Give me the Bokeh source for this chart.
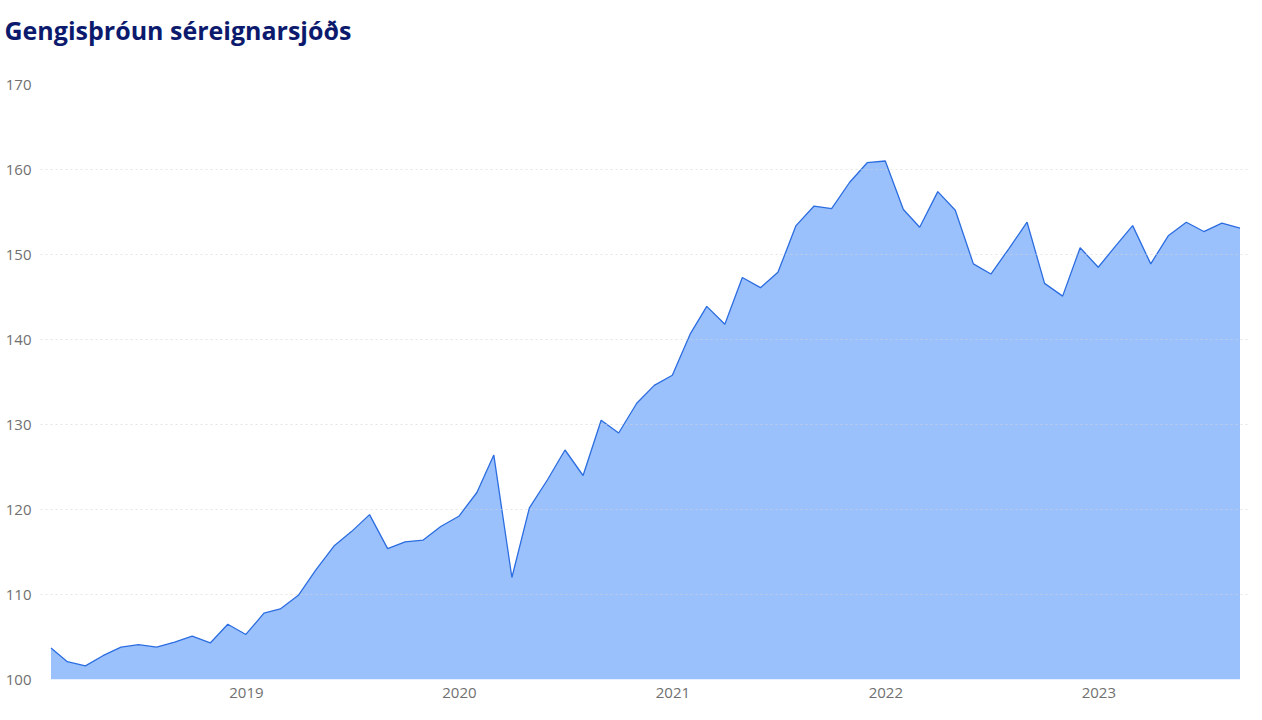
import pandas as pd
from bokeh.plotting import figure
from bokeh.models import FixedTicker, Range1d, ColumnDataSource, CustomJSTickFormatter, Title
from bokeh.embed import file_html
from bokeh.resources import INLINE

title_text = "Gengisþróun séreignarsjóðs"
start_month = "2018-01-31"
n_months = 68
values = [
    103.7, 102.1, 101.6, 102.8, 103.8, 104.1, 103.8, 104.4, 105.1, 104.3, 106.5, 105.3,
    107.8, 108.3, 109.9, 112.9, 115.7, 117.4, 119.4, 115.4, 116.2, 116.4, 118.0, 119.2,
    122.0, 126.4, 112.0, 120.2, 123.5, 127.0, 124.0, 130.5, 129.0, 132.5, 134.6, 135.8,
    140.7, 143.9, 141.8, 147.3, 146.1, 147.9, 153.4, 155.7, 155.4, 158.5, 160.8, 161.0,
    155.3, 153.2, 157.4, 155.2, 148.9, 147.7, 150.7, 153.8, 146.6, 145.1, 150.8, 148.5,
    151.1, 153.4, 148.9, 152.2, 153.8, 152.7, 153.7, 153.1,
]
y_ticks = [100, 110, 120, 130, 140, 150, 160, 170]
x_tick_years = [2019, 2020, 2021, 2022, 2023]

dates = pd.date_range(start_month, periods=n_months, freq="ME")
src = ColumnDataSource(dict(x=dates, y=values, base=[y_ticks[0]] * len(values)))

pad = pd.Timedelta(days=18)
p = figure(
    width=1250, height=704, x_axis_type="datetime",
    x_range=Range1d(dates[0] - pad, dates[-1] + pad),
    y_range=Range1d(y_ticks[0], y_ticks[-1]),
    output_backend="svg", toolbar_location=None,
    min_border_left=40, min_border_right=0, min_border_top=0, min_border_bottom=25,
)
p.title.text = title_text
p.title.text_font = "Open Sans"
p.title.text_font_style = "bold"
p.title.text_font_size = "25px"
p.title.text_color = "#0c1a6e"
p.title.offset = -36
p.title.standoff = 20

spacer = Title(text=" ", text_font_size="20px", standoff=4)
p.add_layout(spacer, "above")

p.varea(x="x", y1="base", y2="y", source=src, fill_color="#9bc1fc", fill_alpha=1.0)
p.line(x="x", y="y", source=src, line_color="#2b6de0", line_width=1.3)

p.outline_line_color = None
p.xgrid.grid_line_color = None
p.ygrid.grid_line_color = "#d4d4d4"
p.ygrid.grid_line_dash = "2 3"
p.ygrid.level = "overlay"
p.ygrid.grid_line_alpha = 0.6

year_ms = [pd.Timestamp(f"{y}-01-01").value // 10**6 for y in x_tick_years]
p.xaxis.ticker = FixedTicker(ticks=year_ms)
p.xaxis.formatter = CustomJSTickFormatter(code="return String(new Date(tick).getUTCFullYear());")
p.yaxis.ticker = FixedTicker(ticks=y_ticks)

for ax in (p.xaxis, p.yaxis):
    ax.axis_line_color = None
    ax.major_tick_line_color = None
    ax.minor_tick_line_color = None
    ax.major_label_text_font = "Open Sans"
    ax.major_label_text_font_size = "15px"
    ax.major_label_text_color = "#707070"
p.xaxis.major_label_standoff = 2
p.yaxis.major_label_standoff = 3

open("out.html", "w").write(file_html(p, INLINE))
